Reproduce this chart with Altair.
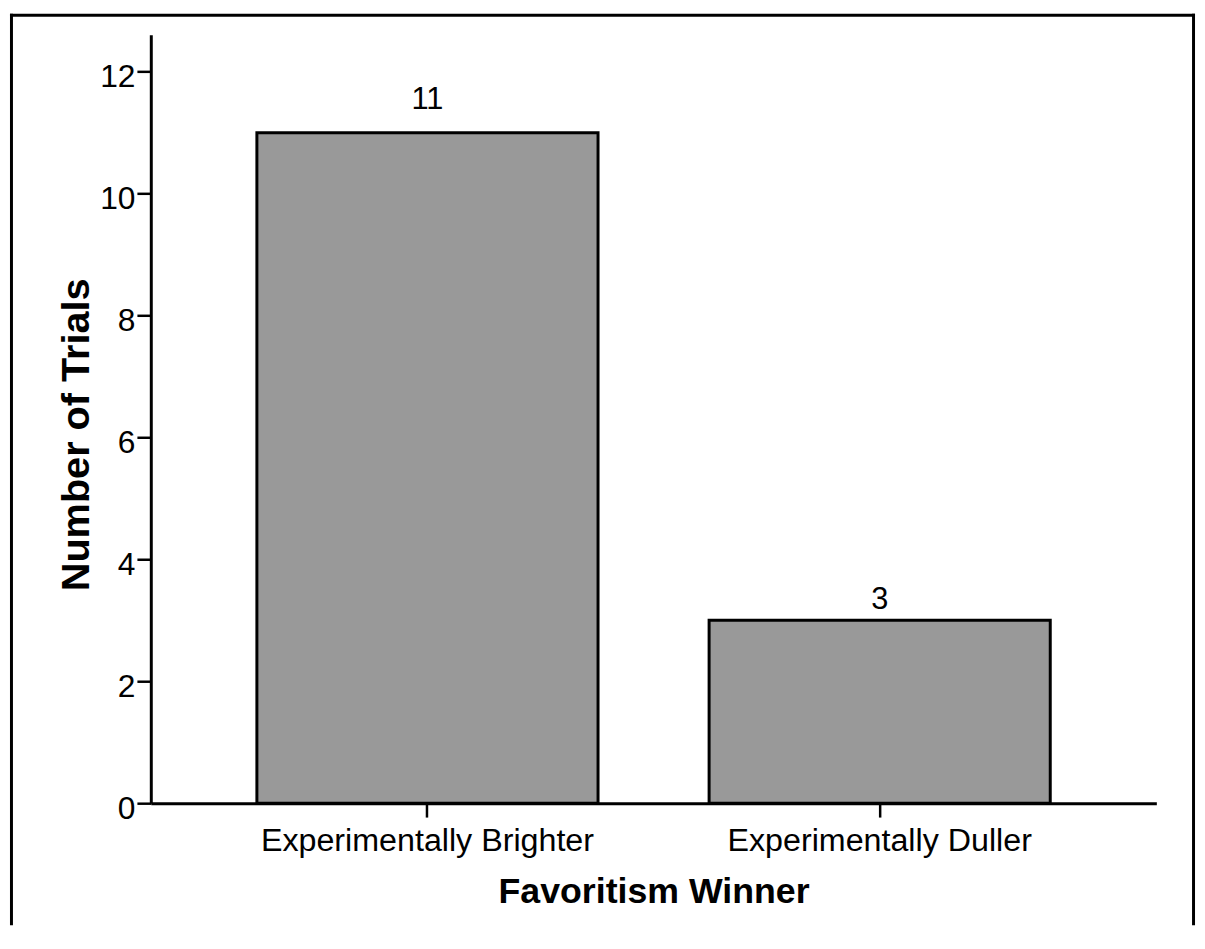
import altair as alt
import pandas as pd

# ---- data ----
categories = ["Experimentally Brighter", "Experimentally Duller"]
trials = [11, 3]
y_ticks = [0, 2, 4, 6, 8, 10, 12]
x_title = "Favoritism Winner"
y_title = "Number of Trials"

df = pd.DataFrame({"winner": categories, "trials": trials})
one = pd.DataFrame({"k": [0]})

W, H = 1014, 775
FONT = "Liberation Sans"

x_enc = alt.X(
    "winner:N", sort=categories, title=x_title,
    scale=alt.Scale(paddingInner=0.2456, paddingOuter=0.2346),
    axis=alt.Axis(
        labelAngle=0, labelFont=FONT, labelFontSize=32.5, labelColor="black",
        labelPadding=8, labelLimit=1000,
        tickSize=14, tickWidth=2.5, tickColor="black",
        domainColor="black", domainWidth=3,
        titleFont=FONT, titleFontSize=36, titleFontWeight="bold", titleColor="black",
        titleBaseline="alphabetic", titleY=100,
    ),
)
y_enc = alt.Y(
    "trials:Q", title=y_title,
    scale=alt.Scale(domain=[0, 12.61], nice=False, zero=True),
    axis=alt.Axis(
        values=y_ticks, grid=False, format="d",
        labelFont=FONT, labelFontSize=32, labelColor="black",
        labelPadding=2, labelOffset=5,
        tickSize=14, tickWidth=2.5, tickColor="black",
        domainColor="black", domainWidth=3,
        titleFont=FONT, titleFontSize=40, titleFontWeight="bold", titleColor="black",
        titleAngle=270, titleAlign="center", titleBaseline="alphabetic",
        titleX=-63, titleY=403,
    ),
)

bars = alt.Chart(df).mark_bar(fill="#999999", stroke="black", strokeWidth=3).encode(
    x=x_enc, y=y_enc
)

lab1 = alt.Chart(df).transform_filter(alt.datum.winner == categories[0]).mark_text(
    font=FONT, fontSize=31, color="black", baseline="alphabetic", dy=-24
).encode(x=alt.X("winner:N", sort=categories), y="trials:Q", text="trials:Q")

lab2 = alt.Chart(df).transform_filter(alt.datum.winner == categories[1]).mark_text(
    font=FONT, fontSize=31, color="black", baseline="alphabetic", dy=-11
).encode(x=alt.X("winner:N", sort=categories), y="trials:Q", text="trials:Q")

# outer frame (decoration)
frame_left = alt.Chart(one).mark_rule(color="black", strokeWidth=3).encode(
    x=alt.value(-140.5), y=alt.value(-21), y2=alt.value(898))
frame_right = alt.Chart(one).mark_rule(color="black", strokeWidth=3).encode(
    x=alt.value(1051.5), y=alt.value(-21), y2=alt.value(898))
frame_top = alt.Chart(one).mark_rule(color="black", strokeWidth=3).encode(
    y=alt.value(-19.5), x=alt.value(-142), x2=alt.value(1053))

chart = alt.layer(frame_left, frame_right, frame_top, bars, lab1, lab2).properties(
    width=W, height=H, padding=0, background="white"
).configure_view(stroke="transparent")

chart.save("out.html", embed_options={"renderer": "svg", "actions": False})
